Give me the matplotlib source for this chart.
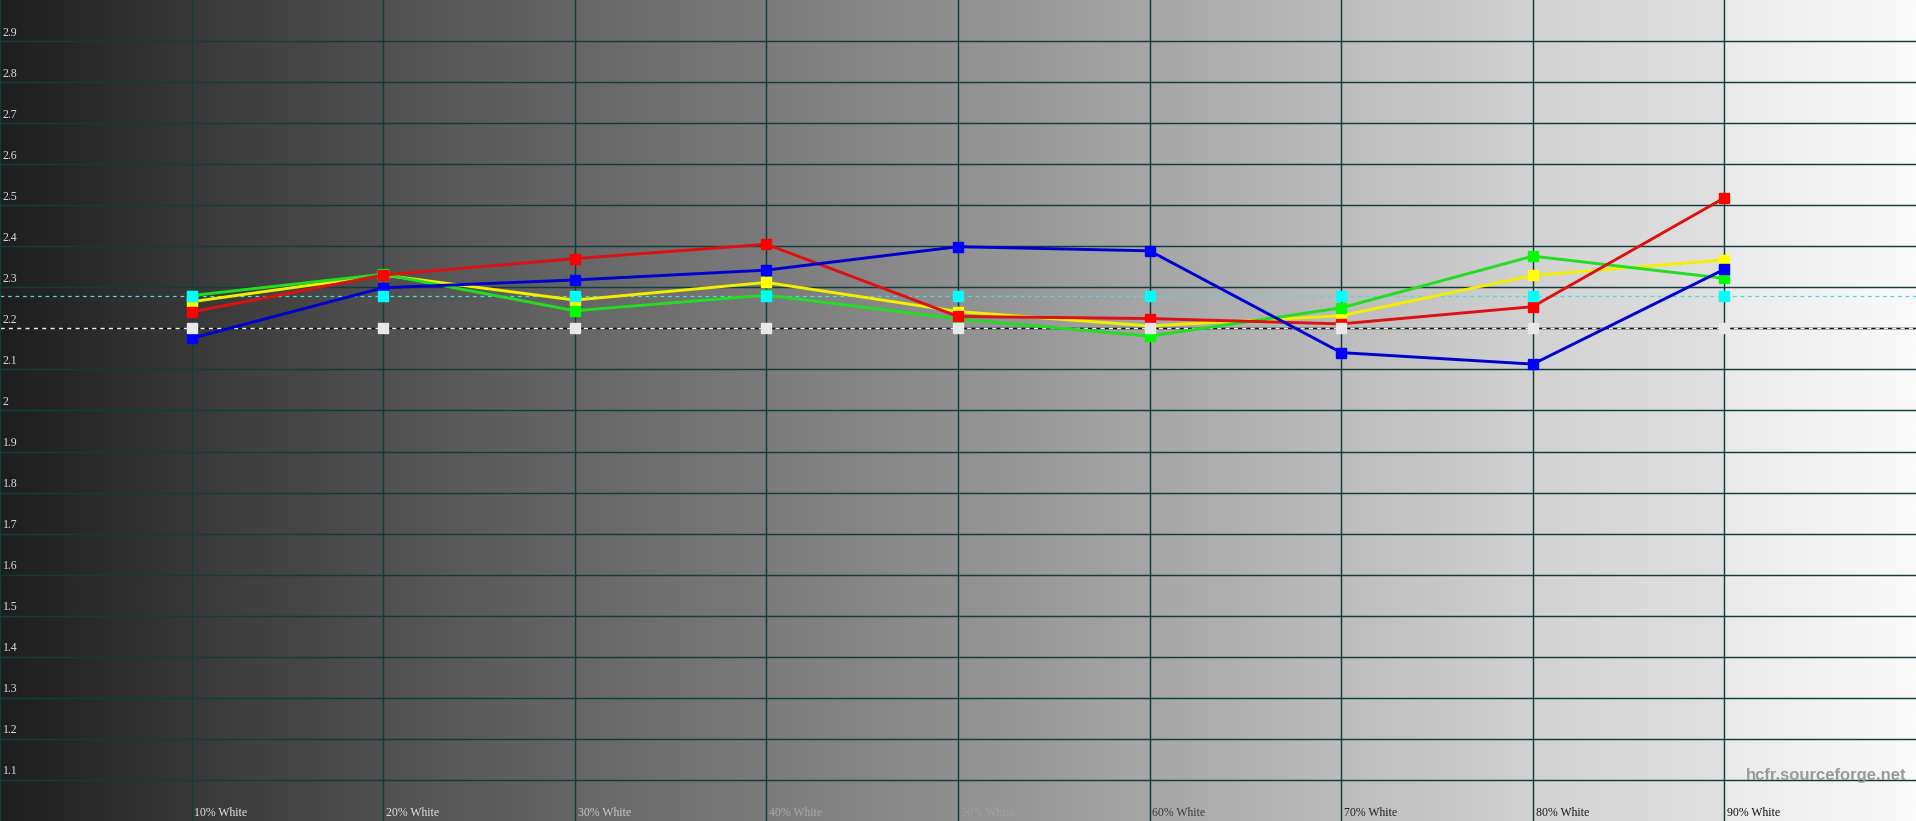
import numpy as np
import matplotlib
matplotlib.use("Agg")
import matplotlib.pyplot as plt

# Gray levels (% white) and measured gamma per channel
levels = [10, 20, 30, 40, 50, 60, 70, 80, 90]
level_labels = ["10% White", "20% White", "30% White", "40% White", "50% White",
                "60% White", "70% White", "80% White", "90% White"]
label_colors = ["#e6e6e6", "#e0e0e0", "#c8c8c8", "#a8a8a8", "#a2a2a2",
                "#3a3a3a", "#222222", "#181818", "#101010"]

gamma_yellow = [2.265, 2.33, 2.269, 2.312, 2.241, 2.206, 2.231, 2.329, 2.367]
gamma_green = [2.28, 2.332, 2.243, 2.281, 2.223, 2.181, 2.25, 2.376, 2.322]
gamma_red = [2.24, 2.33, 2.37, 2.405, 2.229, 2.224, 2.211, 2.253, 2.518]
gamma_blue = [2.176, 2.299, 2.318, 2.342, 2.399, 2.389, 2.141, 2.113, 2.344]

gamma_target = 2.2
gamma_average = 2.28

y_ticks = [1.1, 1.2, 1.3, 1.4, 1.5, 1.6, 1.7, 1.8, 1.9, 2, 2.1, 2.2, 2.3,
           2.4, 2.5, 2.6, 2.7, 2.8, 2.9]

# background gray ramp anchors (position %, gray value)
bg_pos = [0, 10, 20, 30, 40, 50, 60, 70, 80, 89.99, 90, 100]
bg_val = [30, 56, 80, 102, 123, 144, 166, 188, 210, 224, 234, 250]

fig = plt.figure(figsize=(19.16, 8.21), dpi=100)
ax = fig.add_axes([0, 0, 1, 1])
ax.set_xlim(0, 100)
ax.set_ylim(1.0, 3.0)

xs = np.linspace(0, 100, 1916)
ramp = np.interp(xs, bg_pos, bg_val) / 255.0
img = np.repeat(ramp[None, :, None], 3, axis=2)
ax.imshow(img, extent=[0, 100, 1.0, 3.0], aspect="auto", zorder=0,
          interpolation="bilinear")

grid_color = "#123d3d"
for x in levels:
    ax.axvline(x, color=grid_color, lw=1.05, zorder=1)
for y in y_ticks:
    ax.axhline(y, color=grid_color, lw=1.05, zorder=1)
for side, s in ax.spines.items():
    s.set_color(grid_color)
    s.set_linewidth(1.5)
    s.set_visible(side == "left")
ax.set_xticks([])
ax.set_yticks([])

# reference lines
ax.axhline(gamma_target, color="#111111", lw=1.0, zorder=2)
ax.axhline(gamma_target, color="#f0f0f0", lw=1.0, ls=(0, (3, 3)), zorder=2)
ax.axhline(gamma_average, color="#40e0e0", lw=0.9, ls=(0, (3, 3)), zorder=2)

series = [
    (gamma_yellow, "#f0f000", "#ffff00"),
    (gamma_green, "#22dd22", "#00ff00"),
    (gamma_red, "#dd1111", "#ff0000"),
    (gamma_blue, "#0000d0", "#0000ff"),
]
for vals, lc, mc in series:
    ax.plot(levels, vals, color=lc, lw=2.1, marker="s", ms=6.5,
            mfc=mc, mec=mc, zorder=3)

ax.plot(levels, [gamma_average] * len(levels), ls="none", marker="s", ms=6.5,
        mfc="#00ffff", mec="#00ffff", zorder=4)
ax.plot(levels, [gamma_target] * len(levels), ls="none", marker="s", ms=6.5,
        mfc="#e8e8e8", mec="#e8e8e8", zorder=4)

serif = ["Liberation Serif", "DejaVu Serif"]
for y in y_ticks:
    ax.text(0.15, y + 0.006, "{:g}".format(y), color="#dcdcdc", fontsize=8.5,
            family=serif, ha="left", va="bottom", zorder=5)
for x, lab, c in zip(levels, level_labels, label_colors):
    ax.text(x + 0.15, 1.004, lab, color=c, fontsize=8.5, family=serif,
            ha="left", va="bottom", zorder=5)

ax.text(99.5, 1.093, "hcfr.sourceforge.net", color="#9a9a9a", fontsize=12,
        fontweight="bold", family=["Liberation Sans", "DejaVu Sans"],
        ha="right", va="bottom", zorder=5)

fig.savefig("out.png", dpi=100)
